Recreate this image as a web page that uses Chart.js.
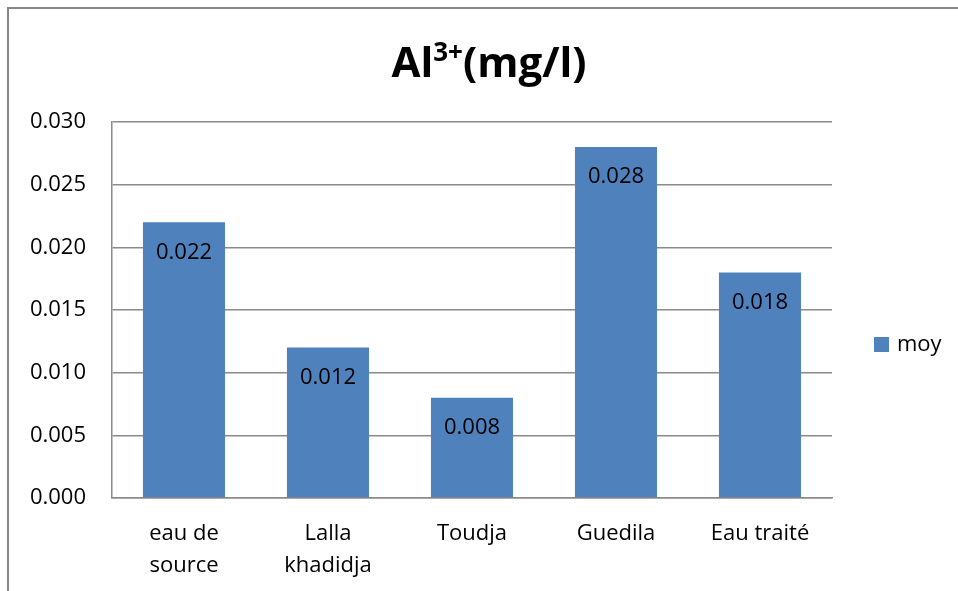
<!DOCTYPE html>
<html lang="fr">
<head>
  <meta charset="utf-8">
  <title>Al3+ (mg/l)</title>
  <script src="https://cdn.jsdelivr.net/npm/chart.js"></script>
  <style>
    html, body { margin: 0; padding: 0; background: #ffffff; }
    #wrap { width: 958px; height: 591px; position: relative; }
  </style>
</head>
<body>
<div id="wrap"><canvas id="bar-chart" width="958" height="591"></canvas></div>
<script>
  // data
  const categories = [["eau de", "source"], ["Lalla", "khadidja"], "Toudja", "Guedila", "Eau traité"];
  const moyValues = [0.022, 0.012, 0.008, 0.028, 0.018];
  const seriesName = "moy";
  const yTicks = { min: 0, max: 0.03, step: 0.005 };

  const FONT = "'Open Sans', 'Liberation Sans', sans-serif";
  const BLUE = "#4F81BD";
  const GRID = "#8a8a8a";

  // frame, title, value labels and legend
  const extras = {
    id: 'extras',
    beforeDraw(chart) {
      const ctx = chart.ctx;
      ctx.save();
      ctx.fillStyle = '#fff';
      ctx.fillRect(0, 0, chart.width, chart.height);
      ctx.strokeStyle = '#878787';
      ctx.lineWidth = 2;
      ctx.strokeRect(8, 8, 1200, 1200);
      ctx.restore();
    },
    afterDatasetsDraw(chart) {
      const ctx = chart.ctx;
      const meta = chart.getDatasetMeta(0);
      ctx.save();
      ctx.font = "22px " + FONT;
      ctx.fillStyle = '#000';
      ctx.textAlign = 'center';
      ctx.textBaseline = 'middle';
      meta.data.forEach((bar, i) => {
        ctx.fillText(moyValues[i].toFixed(3), bar.x, bar.y + 30);
      });
      ctx.restore();
    },
    afterDraw(chart) {
      const ctx = chart.ctx;
      ctx.save();
      // title Al3+(mg/l) with real superscript
      const big = "bold 42px " + FONT, small = "bold 26px " + FONT;
      ctx.font = big; const w1 = ctx.measureText("Al").width;
      const w3 = ctx.measureText("(mg/l)").width;
      ctx.font = small; const w2 = ctx.measureText("3+").width;
      let x = 489 - (w1 + w2 + w3) / 2;
      const base = 77;
      ctx.fillStyle = '#000';
      ctx.textBaseline = 'alphabetic';
      ctx.textAlign = 'left';
      ctx.font = big; ctx.fillText("Al", x, base); x += w1;
      ctx.font = small; ctx.fillText("3+", x, base - 16); x += w2;
      ctx.font = big; ctx.fillText("(mg/l)", x, base);
      // legend
      ctx.fillStyle = chart.data.datasets[0].backgroundColor;
      ctx.fillRect(874, 337, 15, 15);
      ctx.fillStyle = '#000';
      ctx.font = "22px " + FONT;
      ctx.textBaseline = 'middle';
      ctx.fillText(chart.data.datasets[0].label, 897, 345);
      ctx.restore();
    }
  };

  const ctx1 = document.getElementById('bar-chart').getContext('2d');
  const chart1 = new Chart(ctx1, {
    type: 'bar',
    data: {
      labels: categories,
      datasets: [{
        label: seriesName,
        data: moyValues,
        backgroundColor: BLUE,
        borderWidth: 0,
        barPercentage: 0.57,
        categoryPercentage: 1
      }]
    },
    options: {
      responsive: false,
      animation: false,
      layout: { padding: { top: 122, right: 126, left: 0, bottom: 0 } },
      plugins: {
        legend: { display: false },
        title: { display: false },
        tooltip: { enabled: false }
      },
      scales: {
        x: {
          grid: { display: false, drawTicks: false },
          border: { display: true, color: GRID, width: 1.5 },
          ticks: {
            color: '#000',
            font: { family: FONT, size: 22, lineHeight: '32px' },
            padding: 20,
            maxRotation: 0,
            autoSkip: false
          },
          afterFit(scale) { scale.height = 93; }
        },
        y: {
          min: yTicks.min,
          max: yTicks.max,
          grid: { color: GRID, lineWidth: 1.5, drawTicks: false },
          border: { display: true, color: GRID, width: 1.5 },
          ticks: {
            stepSize: yTicks.step,
            color: '#000',
            font: { family: FONT, size: 22 },
            padding: 26,
            callback: v => v.toFixed(3)
          },
          afterFit(scale) { scale.width = 112; }
        }
      }
    },
    plugins: [extras]
  });
</script>
</body>
</html>
